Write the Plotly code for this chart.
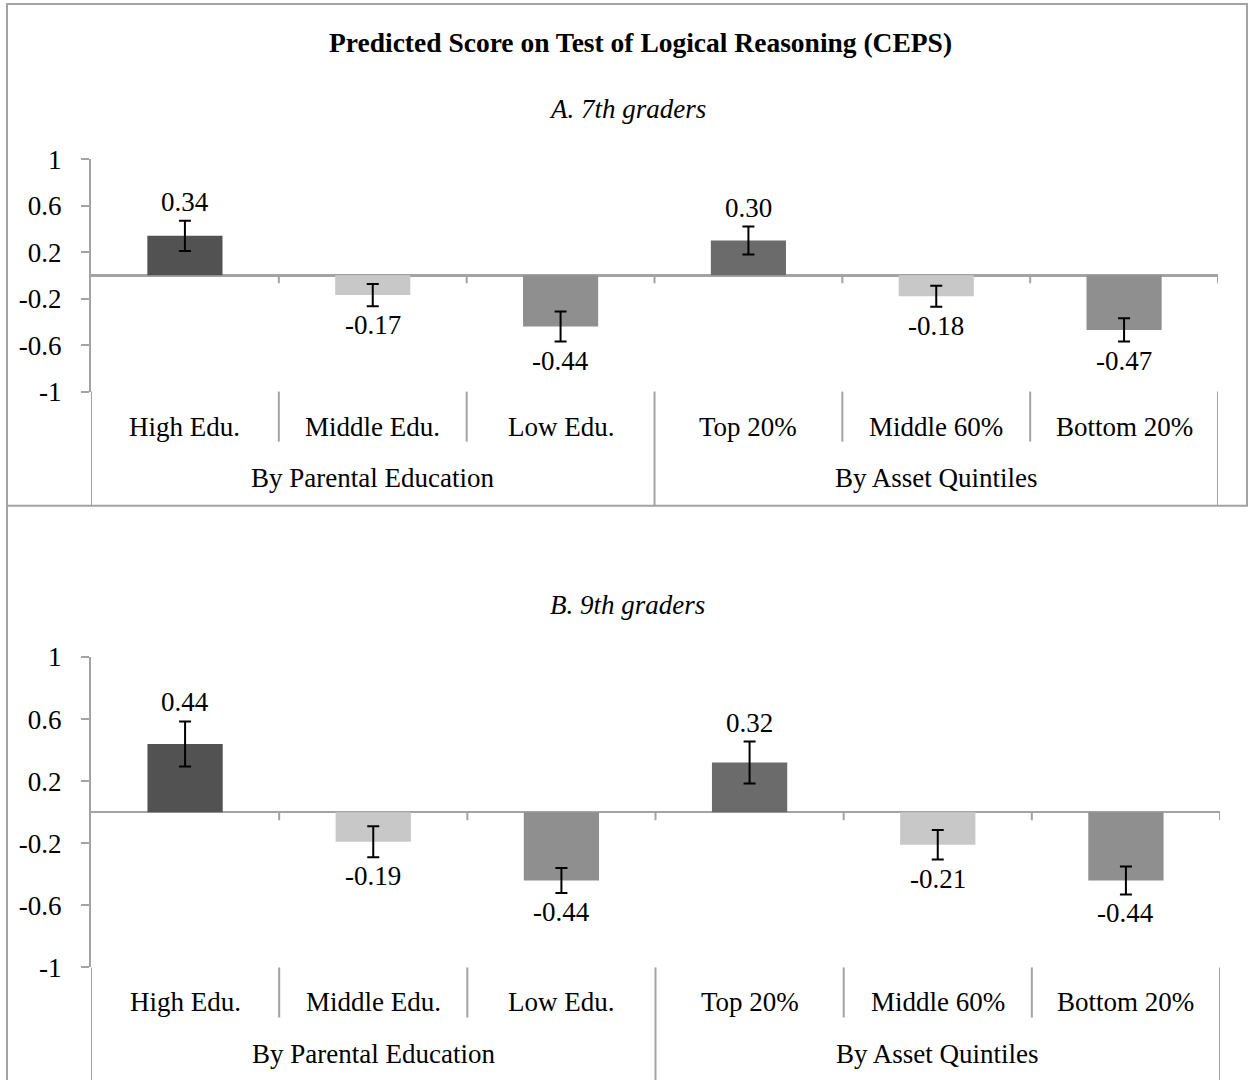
import plotly.graph_objects as go

# ---------------- data ----------------
categories = ["High Edu.", "Middle Edu.", "Low Edu.", "Top 20%", "Middle 60%", "Bottom 20%"]
groups = ["By Parental Education", "By Asset Quintiles"]
values_7th = [0.34, -0.17, -0.44, 0.30, -0.18, -0.47]
errors_7th = [0.13, 0.095, 0.13, 0.12, 0.09, 0.10]
values_9th = [0.44, -0.19, -0.44, 0.32, -0.21, -0.44]
errors_9th = [0.145, 0.10, 0.08, 0.135, 0.095, 0.09]
y_ticks = [1, 0.6, 0.2, -0.2, -0.6, -1]
title_text = "Predicted Score on Test of Logical Reasoning (CEPS)"
panel_titles = ["A. 7th graders", "B. 9th graders"]

# ---------------- style ----------------
W = 1249
TOP_OFF = 16          # figure is shifted up by this many px in the page
H = 1112
FONT = "Liberation Serif, Times New Roman, serif"
GRAY = "#a3a3a3"
FS = 27
bar_colors = ["#525252", "#c8c8c8", "#8f8f8f", "#6b6b6b", "#c8c8c8", "#8f8f8f"]

# empirical vertical mapping of the photographed page
VA, VB = 15.6, 0.9715


def px_x(p):
    return p / W


def px_y(p):
    fig_y = (p - VA) / VB + TOP_OFF
    return 1 - fig_y / H


# panel geometry in (target picture) pixels
panels = [
    dict(vals=values_7th, errs=errors_7th, x0=91, x1=1218, ytop=160, ybot=392,
         sub_y=110, cat_y=427, grp_y=478, sep_end=442, box_bottom=506, xa="x", ya="y"),
    dict(vals=values_9th, errs=errors_9th, x0=91, x1=1220, ytop=657, ybot=967,
         sub_y=605, cat_y=1001, grp_y=1053, sep_end=1017, box_bottom=1085, xa="x2", ya="y2"),
]

fig = go.Figure()
shapes = []
annotations = []

n = len(categories)
for k, p in enumerate(panels):
    xs = list(range(n))
    fig.add_trace(go.Bar(
        x=xs, y=p["vals"], width=0.4,
        marker=dict(color=bar_colors, line=dict(width=0)),
        error_y=dict(type="data", array=p["errs"], visible=True,
                     color="black", thickness=2, width=6),
        xaxis=p["xa"], yaxis=p["ya"], showlegend=False, hoverinfo="skip",
    ))
    axn = "" if k == 0 else "2"
    fig.update_layout(**{
        f"xaxis{axn}": dict(domain=[px_x(p["x0"]), px_x(p["x1"])], range=[-0.5, n - 0.5],
                            showticklabels=False, showgrid=False, zeroline=False,
                            showline=False, ticks="", anchor=p["ya"], fixedrange=True),
        f"yaxis{axn}": dict(domain=[px_y(p["ybot"]), px_y(p["ytop"])], range=[-1, 1],
                            tickvals=y_ticks, ticktext=[f"{t:g}" for t in y_ticks],
                            ticks="outside", ticklen=8, tickwidth=2, tickcolor=GRAY,
                            ticklabelstandoff=14,
                            showline=True, linecolor=GRAY, linewidth=2,
                            showgrid=False, zeroline=True, zerolinecolor=GRAY,
                            zerolinewidth=2.5, anchor=p["xa"], fixedrange=True,
                            tickfont=dict(family=FONT, size=FS, color="black")),
    })

    # value labels just beyond the error bar ends
    for i, (v, e) in enumerate(zip(p["vals"], p["errs"])):
        pos = v >= 0
        annotations.append(dict(
            x=i, y=(v + e) if pos else (v - e), xref=p["xa"], yref=p["ya"],
            text=f"{v:.2f}", showarrow=False, yshift=19 if pos else -19,
            font=dict(family=FONT, size=FS, color="black")))

    # small ticks on the zero line at category boundaries
    for b in range(1, n + 1):
        shapes.append(dict(type="line", xref=p["xa"], yref=p["ya"],
                           x0=b - 0.5, x1=b - 0.5, ysizemode="pixel", yanchor=0,
                           y0=0, y1=-8, line=dict(color=GRAY, width=2)))

    # category separators below plot
    for b in range(n + 1):
        xb = b - 0.5
        full = b in (0, n // 2, n)
        end = p["box_bottom"] if full else p["sep_end"]
        shapes.append(dict(type="line", xref=p["xa"], yref="paper",
                           x0=xb, x1=xb, y0=px_y(p["ybot"]), y1=px_y(end),
                           line=dict(color=GRAY, width=2)))

    # category labels
    for i, c in enumerate(categories):
        annotations.append(dict(x=i, y=px_y(p["cat_y"]), xref=p["xa"], yref="paper",
                                text=c, showarrow=False, yanchor="middle",
                                font=dict(family=FONT, size=FS, color="black")))
    # group labels
    half = n // 2
    for g, name in enumerate(groups):
        annotations.append(dict(x=(half - 1) / 2 + g * half, y=px_y(p["grp_y"]),
                                xref=p["xa"], yref="paper", text=name,
                                showarrow=False, yanchor="middle",
                                font=dict(family=FONT, size=FS, color="black")))
    # panel subtitle
    annotations.append(dict(x=px_x(627), y=px_y(p["sub_y"]), xref="paper", yref="paper",
                            text=f"<i>{panel_titles[k]}</i>", showarrow=False,
                            yanchor="middle",
                            font=dict(family=FONT, size=FS, color="black")))

# main title
annotations.append(dict(x=px_x(640), y=px_y(43), xref="paper", yref="paper",
                        text=f"<b>{title_text}</b>", showarrow=False, yanchor="middle",
                        font=dict(family=FONT, size=27.5, color="black")))

# outer borders
shapes.append(dict(type="rect", xref="paper", yref="paper",
                   x0=px_x(7), x1=px_x(1247), y0=px_y(506), y1=px_y(5),
                   line=dict(color=GRAY, width=2)))
shapes.append(dict(type="line", xref="paper", yref="paper",
                   x0=px_x(7), x1=px_x(7), y0=px_y(506), y1=px_y(1085),
                   line=dict(color=GRAY, width=2)))

fig.update_layout(
    width=W, height=H, autosize=False,
    margin=dict(l=0, r=0, t=0, b=0),
    paper_bgcolor="white", plot_bgcolor="white",
    shapes=shapes, annotations=annotations,
    bargap=0.6, showlegend=False, hovermode=False,
    font=dict(family=FONT, size=FS, color="black"),
)

fig.write_html(
    "out.html",
    config={"displayModeBar": False, "staticPlot": True},
    post_script=(
        "var gd=document.getElementById('{plot_id}');"
        "gd.style.position='fixed';gd.style.top='-%dpx';gd.style.left='0px';"
        "document.documentElement.style.margin='0';"
        "document.documentElement.style.overflow='hidden';"
        "document.body.style.margin='0';document.body.style.padding='0';"
        "document.body.style.overflow='hidden';" % TOP_OFF
    ),
)
